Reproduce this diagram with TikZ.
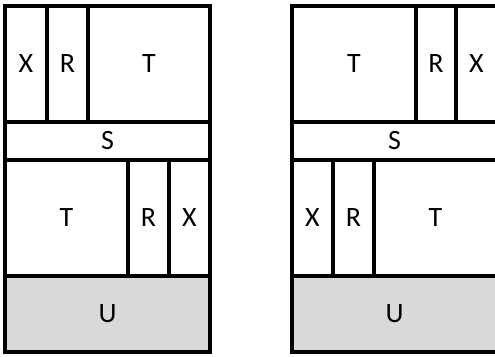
\documentclass[tikz,border=0pt]{standalone}
\usepackage{fontspec}
\setmainfont{Carlito}
\begin{document}
\begin{tikzpicture}[x=1pt,y=-1pt,
  cell/.style={draw=black, line width=3.2pt},
  ucell/.style={cell, fill=gray!30},
  lbl/.style={font=\fontsize{28}{32}\selectfont, text=black, inner sep=0pt}]
\useasboundingbox (0,0) rectangle (495,356);
\clip (0,0) rectangle (495,356);
% left block
\draw[ucell] (5,276) rectangle (210,352) node[midway,lbl] (lu) {U};
\draw[cell] (5,6) rectangle (47,122) node[midway,lbl] (lx1) {X};
\draw[cell] (47,6) rectangle (88,122) node[midway,lbl] (lr1) {R};
\draw[cell] (88,6) rectangle (210,122) node[midway,lbl] (lt1) {T};
\draw[cell] (5,122) rectangle (210,160) node[midway,lbl] (ls) {S};
\draw[cell] (5,160) rectangle (128,276) node[midway,lbl] (lt2) {T};
\draw[cell] (128,160) rectangle (169,276) node[midway,lbl] (lr2) {R};
\draw[cell] (169,160) rectangle (210,276) node[midway,lbl] (lx2) {X};
% right block
\draw[ucell] (292,276) rectangle (497,352) node[midway,lbl] (ru) {U};
\draw[cell] (292,6) rectangle (416,122) node[midway,lbl] (rt1) {T};
\draw[cell] (416,6) rectangle (456,122) node[midway,lbl] (rr1) {R};
\draw[cell] (456,6) rectangle (497,122) node[midway,lbl] (rx1) {X};
\draw[cell] (292,122) rectangle (497,160) node[midway,lbl] (rs) {S};
\draw[cell] (292,160) rectangle (333,276) node[midway,lbl] (rx2) {X};
\draw[cell] (333,160) rectangle (374,276) node[midway,lbl] (rr2) {R};
\draw[cell] (374,160) rectangle (497,276) node[midway,lbl] (rt2) {T};
\end{tikzpicture}
\end{document}
